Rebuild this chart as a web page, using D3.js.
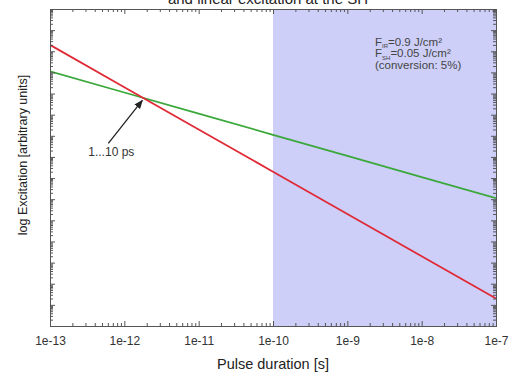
<!DOCTYPE html>
<html>
<head>
<meta charset="utf-8">
<script src="https://cdn.jsdelivr.net/npm/d3@7"></script>
<style>
  body { margin: 0; background: #fff; }
  svg { display: block; font-family: 'Liberation Sans', Arial, sans-serif; }
</style>
</head>
<body>
<script>
// pulse durations [s]
const durations = [1e-13, 1e-12, 1e-11, 1e-10, 1e-9, 1e-8, 1e-7];
// excitation, two-photon (red) and linear at the SH (green), arbitrary units
const redVals = [2.0e13, 2.0e11, 2.0e9, 2.0e7, 2.0e5, 2.0e3, 2.0e1];
const greenVals = [1.12e12, 1.12e11, 1.12e10, 1.12e9, 1.12e8, 1.12e7, 1.12e6];
const xTickLabels = ['1e-13', '1e-12', '1e-11', '1e-10', '1e-9', '1e-8', '1e-7'];
const yDomain = [1, 1e15];
const shadeRange = [1e-10, 1e-7];
const crossing = [1.8e-12, 5.9e10];

const margin = { top: 9, right: 23, bottom: 48, left: 50 };
const W = 519;
const H = 374;
const width = W - margin.left - margin.right;
const height = H - margin.top - margin.bottom;

const svg = d3.select('body').append('svg')
  .attr('width', W)
  .attr('height', H);

const g = svg.append('g')
  .attr('transform', `translate(${margin.left},${margin.top})`);

const x = d3.scaleLog().domain([durations[0], durations[durations.length - 1]]).range([0, width]);
const y = d3.scaleLog().domain(yDomain).range([height, 0]);

// minor tick positions
const xMinor = [];
for (let e = -13; e < -7; e++) for (let k = 2; k <= 9; k++) xMinor.push(k * Math.pow(10, e));
const yMajor = d3.range(0, 16).map((e) => Math.pow(10, e));
const yMinor = [];
for (let e = 0; e < 15; e++) for (let k = 2; k <= 9; k++) yMinor.push(k * Math.pow(10, e));

// shaded region
g.append('rect')
  .attr('x', x(shadeRange[0]))
  .attr('y', 0)
  .attr('width', x(shadeRange[1]) - x(shadeRange[0]))
  .attr('height', height)
  .attr('fill', '#cdcff8');

g.append('clipPath').attr('id', 'clip')
  .append('rect').attr('width', width).attr('height', height);

const line = d3.line().x((d) => x(d[0])).y((d) => y(d[1]));

g.append('path')
  .datum(durations.map((d, i) => [d, greenVals[i]]))
  .attr('clip-path', 'url(#clip)')
  .attr('fill', 'none')
  .attr('stroke', '#3aa83a')
  .attr('stroke-width', 1.8)
  .attr('d', line);

g.append('path')
  .datum(durations.map((d, i) => [d, redVals[i]]))
  .attr('clip-path', 'url(#clip)')
  .attr('fill', 'none')
  .attr('stroke', '#e02a36')
  .attr('stroke-width', 1.8)
  .attr('d', line);

// axes (ticks pointing inward)
function styleAxis(sel) {
  sel.select('.domain').attr('stroke', '#555');
  sel.selectAll('.tick line').attr('stroke', '#555');
  sel.selectAll('.tick text').attr('fill', '#333').style('font-size', '12px')
    .style('font-family', "'Liberation Sans', Arial, sans-serif");
}

g.append('g').attr('transform', `translate(0,${height})`)
  .call(d3.axisBottom(x).tickValues(durations).tickSize(-5).tickPadding(10)
    .tickFormat((d, i) => xTickLabels[i]))
  .call(styleAxis);
g.append('g').attr('transform', `translate(0,${height})`)
  .call(d3.axisBottom(x).tickValues(xMinor).tickSize(-3).tickFormat(''))
  .call(styleAxis);
g.append('g')
  .call(d3.axisTop(x).tickValues(durations).tickSize(-5).tickFormat(''))
  .call(styleAxis);
g.append('g')
  .call(d3.axisTop(x).tickValues(xMinor).tickSize(-3).tickFormat(''))
  .call(styleAxis);

g.append('g')
  .call(d3.axisLeft(y).tickValues(yMajor).tickSize(-5).tickFormat(''))
  .call(styleAxis);
g.append('g')
  .call(d3.axisLeft(y).tickValues(yMinor).tickSize(-3).tickFormat(''))
  .call(styleAxis);
g.append('g').attr('transform', `translate(${width},0)`)
  .call(d3.axisRight(y).tickValues(yMajor).tickSize(-5).tickFormat(''))
  .call(styleAxis);
g.append('g').attr('transform', `translate(${width},0)`)
  .call(d3.axisRight(y).tickValues(yMinor).tickSize(-3).tickFormat(''))
  .call(styleAxis);

// arrow annotation
const defs = svg.append('defs');
defs.append('marker')
  .attr('id', 'arrow')
  .attr('viewBox', '0 0 10 10')
  .attr('refX', 9)
  .attr('refY', 5)
  .attr('markerWidth', 7)
  .attr('markerHeight', 7)
  .attr('orient', 'auto')
  .append('path')
  .attr('d', 'M0,1 L10,5 L0,9 Z')
  .attr('fill', '#222');

const cx = x(crossing[0]);
const cy = y(crossing[1]);
g.append('line')
  .attr('x1', cx - 35)
  .attr('y1', cy + 45)
  .attr('x2', cx - 1)
  .attr('y2', cy + 2)
  .attr('stroke', '#222')
  .attr('stroke-width', 1.3)
  .attr('marker-end', 'url(#arrow)');

g.append('text')
  .attr('x', cx - 32)
  .attr('y', cy + 58)
  .attr('text-anchor', 'middle')
  .style('font-size', '12px')
  .attr('fill', '#333')
  .text('1...10 ps');

// parameters box
const info = g.append('text')
  .style('font-size', '11.5px')
  .attr('fill', '#444');
const t1 = info.append('tspan').attr('x', 325).attr('y', 36.5);
t1.append('tspan').text('F');
t1.append('tspan').attr('dy', 2.5).style('font-size', '6px').text('IR');
t1.append('tspan').attr('dy', -2.5).text('=0.9 J/cm²');
const t2 = info.append('tspan').attr('x', 325).attr('y', 48);
t2.append('tspan').text('F');
t2.append('tspan').attr('dy', 2.5).style('font-size', '6px').text('SH');
t2.append('tspan').attr('dy', -2.5).text('=0.05 J/cm²');
info.append('tspan').attr('x', 325).attr('y', 59.5).text('(conversion: 5%)');

// titles
svg.append('text')
  .attr('x', 268)
  .attr('y', 4)
  .attr('text-anchor', 'middle')
  .style('font-size', '15px')
  .attr('fill', '#222')
  .text('and linear excitation at the SH');

svg.append('text')
  .attr('x', margin.left + width / 2)
  .attr('y', 369)
  .attr('text-anchor', 'middle')
  .style('font-size', '14.5px')
  .attr('fill', '#222')
  .text('Pulse duration [s]');

svg.append('text')
  .attr('transform', `translate(27,${margin.top + 146}) rotate(-90)`)
  .attr('text-anchor', 'middle')
  .style('font-size', '12.5px')
  .attr('fill', '#222')
  .text('log Excitation [arbitrary units]');
</script>
</body>
</html>
